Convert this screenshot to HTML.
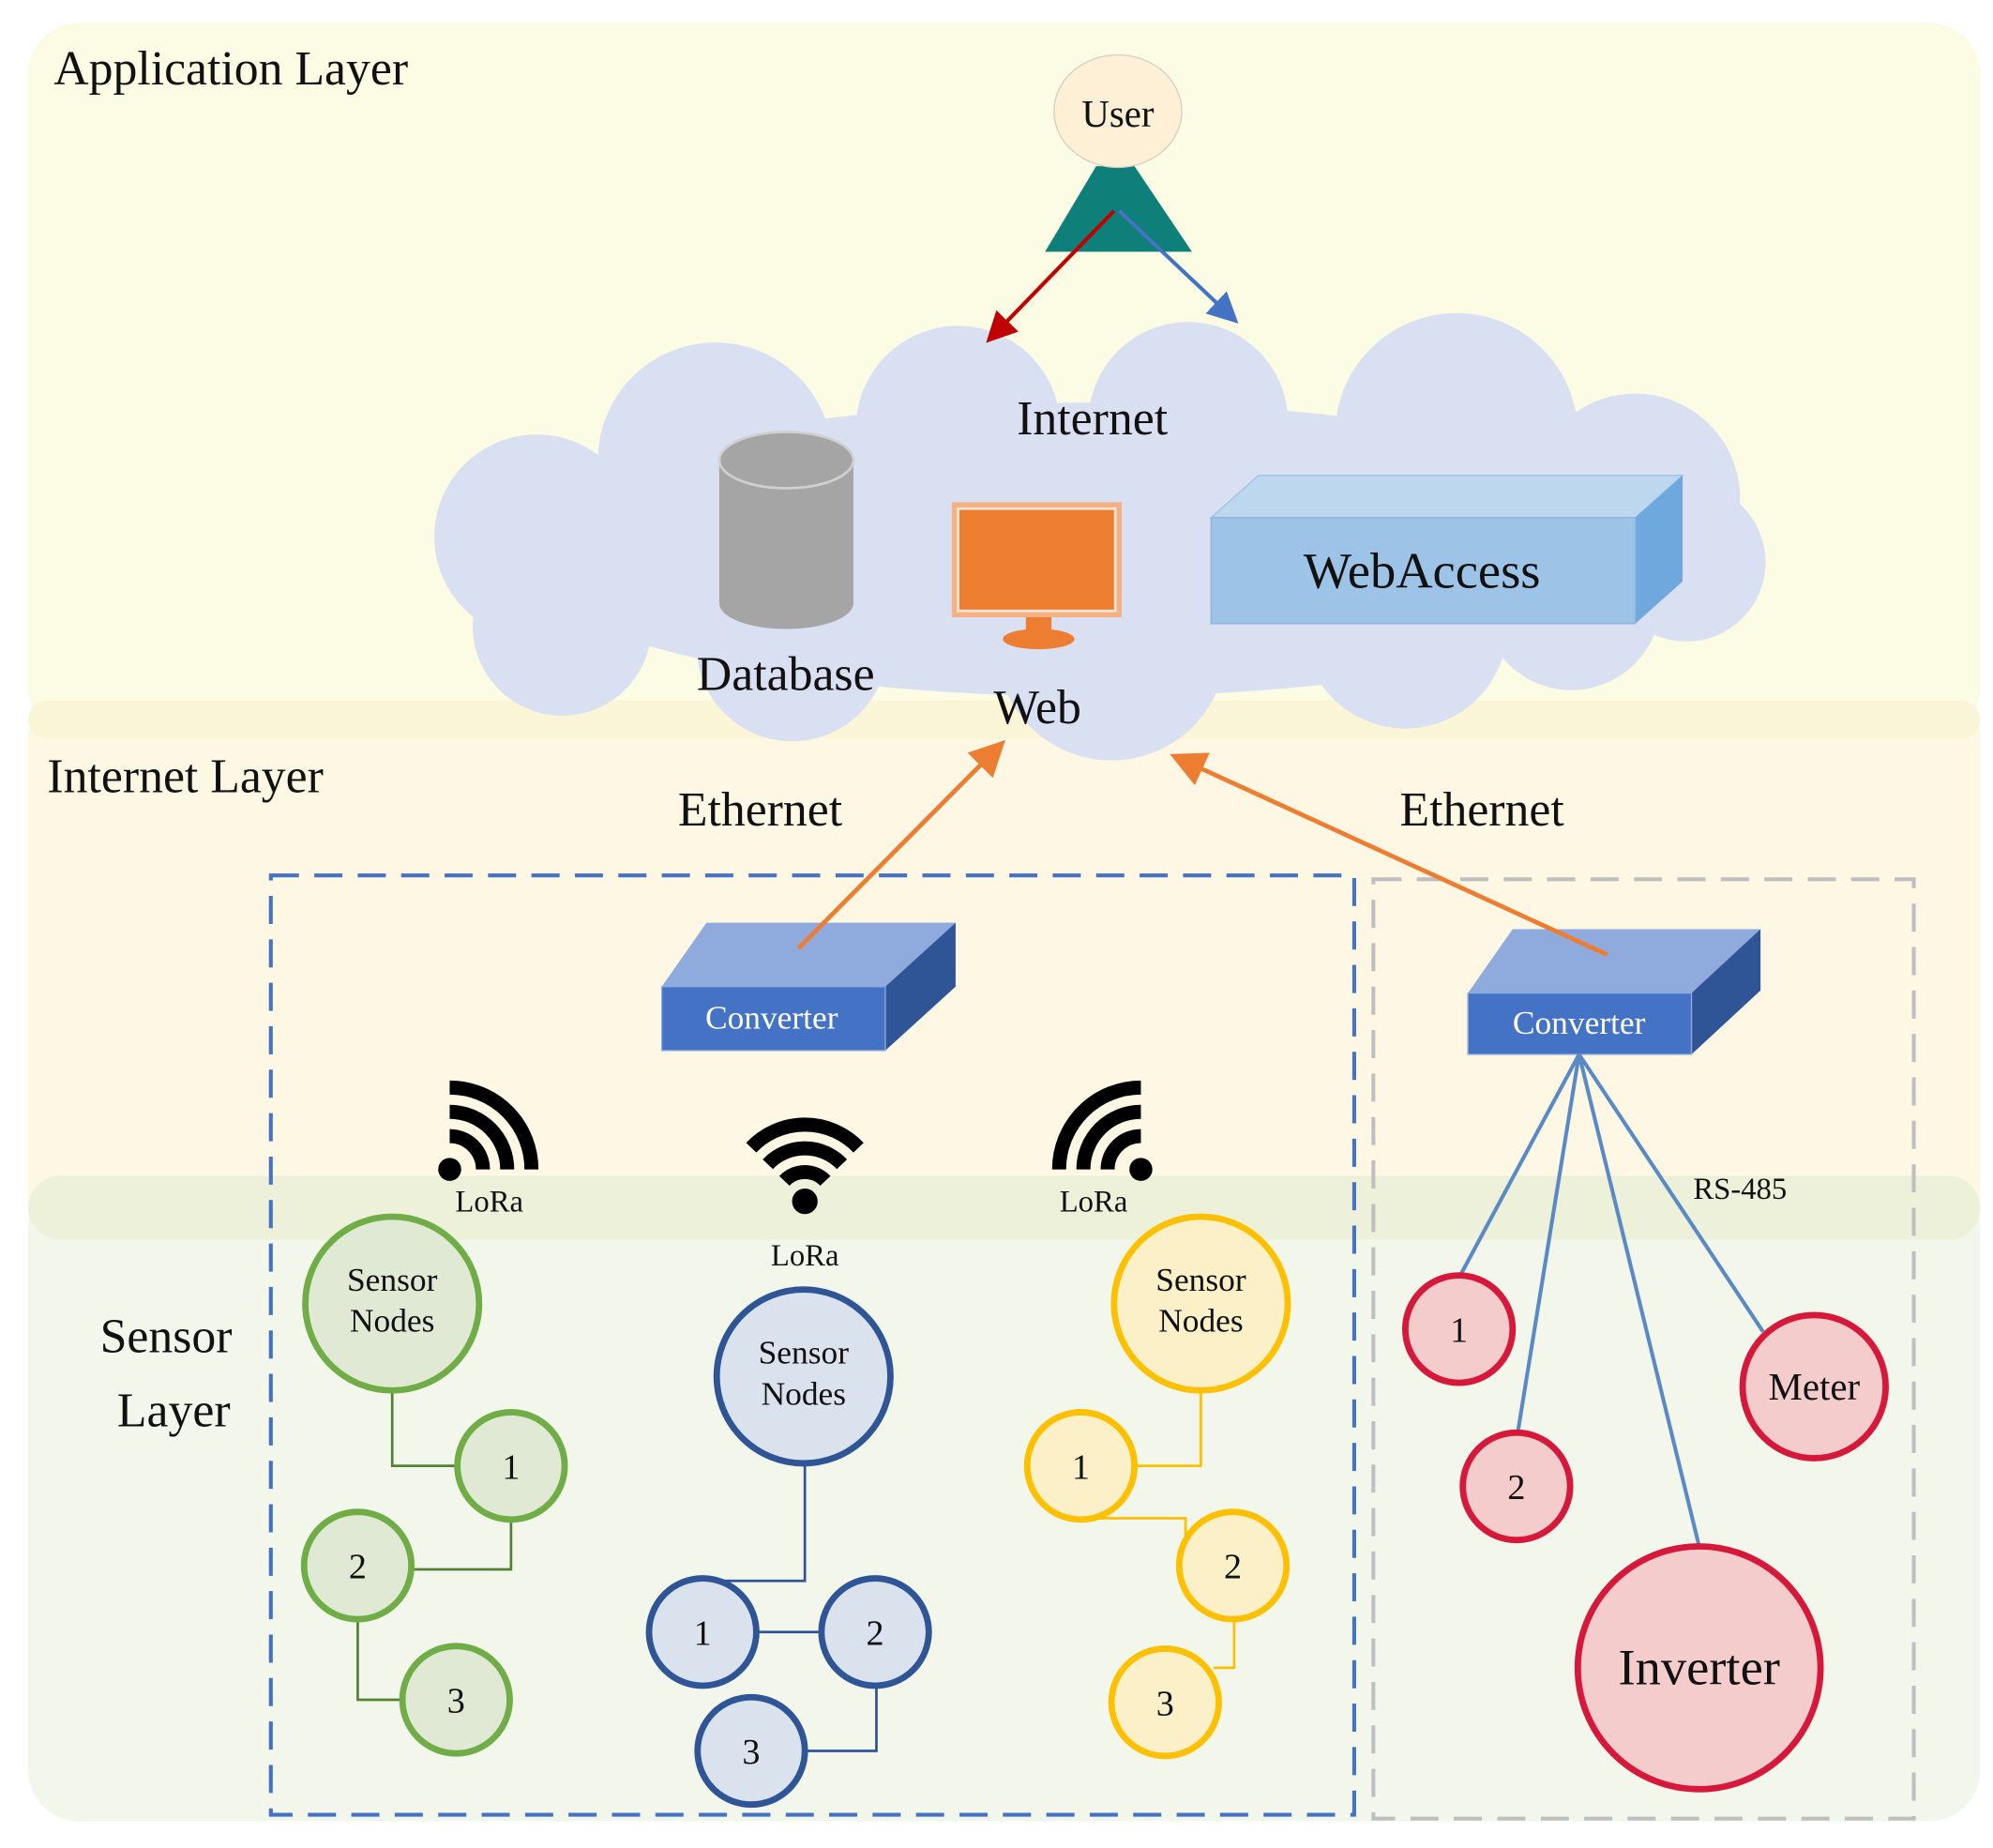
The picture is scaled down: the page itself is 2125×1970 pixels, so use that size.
<!DOCTYPE html>
<html><head><meta charset="utf-8"><style>
html,body{margin:0;padding:0;background:#fff;}
svg{display:block;}
text{font-family:"Liberation Serif",serif;fill:#111;}
</style></head><body>
<svg width="2125" height="1970" viewBox="0 0 1560 1446" preserveAspectRatio="none" xmlns="http://www.w3.org/2000/svg">
<defs>
<marker id="ar" markerWidth="8" markerHeight="8" refX="6" refY="4" orient="auto" markerUnits="strokeWidth"><path d="M0,0 L8,4 L0,8 z" fill="#c00000"/></marker>
<marker id="ab" markerWidth="8" markerHeight="8" refX="6" refY="4" orient="auto" markerUnits="strokeWidth"><path d="M0,0 L8,4 L0,8 z" fill="#4472c4"/></marker>
<marker id="ao" markerWidth="8" markerHeight="8" refX="6" refY="4" orient="auto" markerUnits="strokeWidth"><path d="M0,0 L8,4 L0,8 z" fill="#ed7d31"/></marker>
</defs>
<rect width="1560" height="1446" fill="#fff"/>
<!-- layers -->
<rect x="22" y="18" width="1528" height="560" rx="40" fill="#fcfbe4"/>
<rect x="22" y="548" width="1528" height="420" rx="30" fill="#fdf7e4"/>
<rect x="22" y="548" width="1528" height="30" rx="15" fill="#fbf5d8"/>
<rect x="22" y="920" width="1528" height="505" rx="40" fill="#f3f7eb"/>
<rect x="22" y="920" width="1528" height="50" rx="25" fill="#eef1d9"/>
<text x="42" y="66" font-size="38">Application Layer</text>
<text x="37" y="620" font-size="38">Internet Layer</text>
<text x="130" y="1058" font-size="38" text-anchor="middle">Sensor</text>
<text x="136" y="1116" font-size="38" text-anchor="middle">Layer</text>
<!-- cloud -->
<g fill="#d9e0f2">
<ellipse cx="855" cy="430" rx="460" ry="115"/>
<circle cx="560" cy="360" r="92"/>
<circle cx="750" cy="335" r="80"/>
<circle cx="930" cy="330" r="78"/>
<circle cx="1140" cy="340" r="95"/>
<circle cx="1280" cy="390" r="82"/>
<circle cx="1320" cy="440" r="62"/>
<circle cx="420" cy="420" r="80"/>
<circle cx="440" cy="490" r="70"/>
<circle cx="620" cy="505" r="75"/>
<circle cx="870" cy="505" r="90"/>
<circle cx="1100" cy="490" r="80"/>
<circle cx="1230" cy="470" r="70"/>
</g>
<text x="855" y="340" font-size="38" text-anchor="middle">Internet</text>
<!-- database -->
<path d="M563,360 L563,472 A52,20 0 0 0 668,472 L668,360 Z" fill="#a5a5a5"/>
<ellipse cx="615.5" cy="360" rx="52.5" ry="22" fill="#a5a5a5" stroke="#d0d0d0" stroke-width="2"/>
<text x="615" y="540" font-size="38" text-anchor="middle">Database</text>
<!-- monitor -->
<rect x="745" y="393" width="133" height="90" fill="#f4b183"/>
<rect x="750" y="398" width="123" height="80" fill="#ed7d31" stroke="#fbe5d6" stroke-width="2"/>
<rect x="803" y="483" width="20" height="14" fill="#ed7d31"/>
<ellipse cx="813" cy="500" rx="28" ry="8" fill="#ed7d31"/>
<text x="812" y="566" font-size="38" text-anchor="middle">Web</text>
<!-- webaccess -->
<polygon points="948,405 985,372 1317,372 1280,405" fill="#bdd7ee" stroke="#9dc3e6"/>
<polygon points="1280,405 1317,372 1317,455 1280,488" fill="#6fa8dc"/>
<rect x="948" y="405" width="332" height="83" fill="#9dc3e6" stroke="#8db5dc"/>
<text x="1113" y="460" font-size="40" text-anchor="middle">WebAccess</text>
<!-- user -->
<polygon points="858,130 888,130 933,197 818,197" fill="#0f7f7a"/>
<ellipse cx="875" cy="87" rx="50" ry="44" fill="#fdf0d6" stroke="#d8d0c0"/>
<text x="875" y="99" font-size="30" text-anchor="middle">User</text>
<line x1="872" y1="165" x2="776" y2="264" stroke="#c00000" stroke-width="3" marker-end="url(#ar)"/>
<line x1="876" y1="165" x2="965" y2="249" stroke="#4472c4" stroke-width="3" marker-end="url(#ab)"/>
<!-- ethernet -->
<text x="595" y="646" font-size="38" text-anchor="middle">Ethernet</text>
<text x="1160" y="646" font-size="38" text-anchor="middle">Ethernet</text>
<!-- dashed boxes -->
<rect x="212" y="685" width="848" height="735" fill="none" stroke="#4472c4" stroke-width="3" stroke-dasharray="22,12"/>
<rect x="1075" y="688" width="423" height="735" fill="none" stroke="#bfbfbf" stroke-width="3" stroke-dasharray="22,12"/>
<!-- converters -->
<polygon points="518,772 553,722 748,722 693,772" fill="#8faadc"/>
<polygon points="693,772 748,722 748,772 693,822" fill="#2f5597"/>
<rect x="518" y="772" width="175" height="50" fill="#4472c4" stroke="#8faadc"/>
<text x="604" y="805" font-size="26" text-anchor="middle" style="fill:#fff">Converter</text>
<polygon points="1149,777 1184,727 1378,727 1324,777" fill="#8faadc"/>
<polygon points="1324,777 1378,727 1378,775 1324,825" fill="#2f5597"/>
<rect x="1149" y="777" width="175" height="48" fill="#4472c4" stroke="#8faadc"/>
<text x="1236" y="809" font-size="26" text-anchor="middle" style="fill:#fff">Converter</text>
<line x1="625" y1="742" x2="782" y2="584" stroke="#ed7d31" stroke-width="3.5" marker-end="url(#ao)"/>
<line x1="1258" y1="747" x2="922" y2="593" stroke="#ed7d31" stroke-width="3.5" marker-end="url(#ao)"/>
<!-- wireless icons -->
<g fill="none" stroke="#000" stroke-width="11" stroke-linecap="butt">
<path d="M352,889 A26,26 0 0 1 378,915"/>
<path d="M352,870 A45,45 0 0 1 397,915"/>
<path d="M352,851 A64,64 0 0 1 416,915"/>
<path d="M893,889 A26,26 0 0 0 867,915"/>
<path d="M893,870 A45,45 0 0 0 848,915"/>
<path d="M893,851 A64,64 0 0 0 829,915"/>
<path d="M614,924 A22,22 0 0 1 646,924"/>
<path d="M601,911 A40,40 0 0 1 659,911"/>
<path d="M588,898 A58,58 0 0 1 672,898"/>
</g>
<circle cx="352" cy="915" r="9"/>
<circle cx="893" cy="915" r="9"/>
<circle cx="630" cy="940" r="10"/>
<text x="383" y="948" font-size="24" text-anchor="middle">LoRa</text>
<text x="630" y="990" font-size="24" text-anchor="middle">LoRa</text>
<text x="856" y="948" font-size="24" text-anchor="middle">LoRa</text>
<!-- green -->
<g fill="none" stroke="#548235" stroke-width="2">
<polyline points="307,1088 307,1147 358,1147"/>
<polyline points="400,1189 400,1228 322,1228"/>
<polyline points="280,1267 280,1330 315,1330"/>
</g>
<g fill="#dfe9d4" stroke="#70ad47" stroke-width="5">
<circle cx="307" cy="1020" r="68"/>
<circle cx="400" cy="1147" r="42"/>
<circle cx="280" cy="1225" r="42"/>
<circle cx="357" cy="1330" r="42"/>
</g>
<!-- blue -->
<g fill="none" stroke="#2f5597" stroke-width="2">
<polyline points="630,1145 630,1237 552,1237"/>
<line x1="592" y1="1277" x2="643" y2="1277"/>
<polyline points="686,1319 686,1370 630,1370"/>
</g>
<g fill="#dae3ed" stroke="#2f5597" stroke-width="5">
<circle cx="629" cy="1077" r="68"/>
<circle cx="550" cy="1277" r="42"/>
<circle cx="685" cy="1277" r="42"/>
<circle cx="588" cy="1370" r="42"/>
</g>
<!-- yellow -->
<g fill="none" stroke="#ffc000" stroke-width="2">
<polyline points="940,1088 940,1147 888,1147"/>
<polyline points="858,1188 928,1188 928,1205"/>
<polyline points="966,1267 966,1305 950,1305"/>
</g>
<g fill="#fcf0c8" stroke="#ffc000" stroke-width="5">
<circle cx="940" cy="1020" r="68"/>
<circle cx="846" cy="1147" r="42"/>
<circle cx="965" cy="1225" r="42"/>
<circle cx="912" cy="1332" r="42"/>
</g>
<g font-size="26" text-anchor="middle">
<text x="307" y="1010">Sensor</text><text x="307" y="1042">Nodes</text>
<text x="629" y="1067">Sensor</text><text x="629" y="1099">Nodes</text>
<text x="940" y="1010">Sensor</text><text x="940" y="1042">Nodes</text>
</g>
<g font-size="28" text-anchor="middle">
<text x="400" y="1157">1</text><text x="280" y="1235">2</text><text x="357" y="1340">3</text>
<text x="550" y="1287">1</text><text x="685" y="1287">2</text><text x="588" y="1380">3</text>
<text x="846" y="1157">1</text><text x="965" y="1235">2</text><text x="912" y="1342">3</text>
</g>
<!-- RS-485 -->
<g stroke="#5a8ac6" stroke-width="3">
<line x1="1236" y1="825" x2="1143" y2="998"/>
<line x1="1236" y1="825" x2="1188" y2="1121"/>
<line x1="1236" y1="825" x2="1330" y2="1210"/>
<line x1="1236" y1="825" x2="1380" y2="1042"/>
</g>
<text x="1362" y="938" font-size="24" text-anchor="middle">RS-485</text>
<g fill="#f4cccc" stroke="#d6183a" stroke-width="5">
<circle cx="1142" cy="1040" r="42"/>
<circle cx="1187" cy="1163" r="42"/>
<circle cx="1420" cy="1085" r="56"/>
<circle cx="1330" cy="1305" r="95"/>
</g>
<text x="1142" y="1050" font-size="28" text-anchor="middle">1</text>
<text x="1187" y="1173" font-size="28" text-anchor="middle">2</text>
<text x="1420" y="1095" font-size="30" text-anchor="middle">Meter</text>
<text x="1330" y="1318" font-size="40" text-anchor="middle">Inverter</text>
</svg>
</body></html>
